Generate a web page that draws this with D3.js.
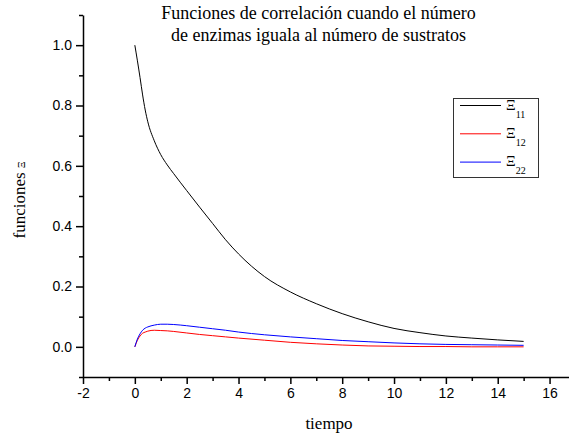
<!DOCTYPE html>
<html>
<head>
<meta charset="utf-8">
<script src="https://cdn.jsdelivr.net/npm/d3@7"></script>
<style>
  body { margin: 0; background: #fff; }
  svg { display: block; }
</style>
</head>
<body>
<div id="chart"></div>
<script>
var svgWidth = 569;
var svgHeight = 436;

// time values and the three correlation functions
var tiempo = [0, 0.1, 0.2, 0.3, 0.4, 0.5, 0.75, 1, 1.25, 1.5, 2, 2.5, 3, 3.5, 4, 5, 6, 7, 8, 9, 10, 11, 12, 13, 14, 15];
var xi11 = [1.0, 0.948, 0.893, 0.835, 0.785, 0.746, 0.683, 0.637, 0.603, 0.574, 0.518, 0.463, 0.409, 0.355, 0.308, 0.233, 0.182, 0.143, 0.110, 0.083, 0.061, 0.047, 0.036, 0.029, 0.023, 0.018];
var xi12 = [0, 0.022, 0.036, 0.045, 0.049, 0.052, 0.055, 0.054, 0.053, 0.051, 0.046, 0.041, 0.037, 0.033, 0.029, 0.022, 0.015, 0.010, 0.006, 0.003, 0.002, 0.001, 0.001, 0, 0, 0];
var xi22 = [0, 0.026, 0.043, 0.055, 0.062, 0.066, 0.072, 0.075, 0.075, 0.074, 0.070, 0.065, 0.060, 0.055, 0.049, 0.040, 0.033, 0.027, 0.021, 0.017, 0.013, 0.010, 0.008, 0.007, 0.006, 0.005];

var xTicks = [-2, 0, 2, 4, 6, 8, 10, 12, 14, 16];
var xMinor = [-1, 1, 3, 5, 7, 9, 11, 13, 15];
var yTicks = [0, 0.2, 0.4, 0.6, 0.8, 1.0];
var yMinor = [-0.1, 0.1, 0.3, 0.5, 0.7, 0.9, 1.1];

var seriesNames = ["11", "12", "22"];
var seriesColors = ["#000000", "#ff0000", "#0000ff"];
var seriesValues = [xi11, xi12, xi22];

var svg = d3.select("#chart")
  .append("svg")
  .attr("width", svgWidth)
  .attr("height", svgHeight);

var xScale = d3.scaleLinear().domain([-2, 16.75]).range([83, 569]);
var yScale = d3.scaleLinear().domain([-0.1, 1.1]).range([377, 15]);

// minor ticks first
svg.append("g")
  .attr("transform", "translate(0,377)")
  .call(d3.axisBottom(xScale).tickValues(xMinor).tickSize(4).tickFormat(""))
  .call(g => g.select(".domain").remove())
  .selectAll("line").attr("stroke-width", 1.5);

svg.append("g")
  .attr("transform", "translate(83,0)")
  .call(d3.axisLeft(yScale).tickValues(yMinor).tickSize(4).tickFormat(""))
  .call(g => g.select(".domain").remove())
  .selectAll("line").attr("stroke-width", 1.5);

// main axes
var xAxis = svg.append("g")
  .attr("transform", "translate(0,377)")
  .call(d3.axisBottom(xScale).tickValues(xTicks).tickSize(7).tickSizeOuter(0).tickPadding(4)
    .tickFormat(d => String(d)));
xAxis.select(".domain").attr("stroke-width", 1.5);
xAxis.selectAll("line").attr("stroke-width", 1.5);
xAxis.selectAll("text")
  .attr("font-family", "'Liberation Sans', Arial, sans-serif")
  .attr("font-size", 14)
  .attr("fill", "#000");

var yAxis = svg.append("g")
  .attr("transform", "translate(83,0)")
  .call(d3.axisLeft(yScale).tickValues(yTicks).tickSize(7).tickSizeOuter(0).tickPadding(4)
    .tickFormat(d3.format(".1f")));
yAxis.select(".domain").attr("stroke-width", 1.5);
yAxis.selectAll("line").attr("stroke-width", 1.5);
yAxis.selectAll("text")
  .attr("font-family", "'Liberation Sans', Arial, sans-serif")
  .attr("font-size", 14)
  .attr("fill", "#000");

// curves
var line = d3.line()
  .x((d, i) => xScale(tiempo[i]))
  .y(d => yScale(d))
  .curve(d3.curveMonotoneX);

svg.selectAll(".serie")
  .data(seriesValues)
  .enter()
  .append("path")
  .attr("class", "serie")
  .attr("d", d => line(d))
  .attr("fill", "none")
  .attr("stroke", (d, i) => seriesColors[i])
  .attr("stroke-width", 1);

// title
var serif = "'Liberation Serif', 'Times New Roman', serif";
var title = svg.append("text")
  .attr("text-anchor", "middle")
  .attr("font-family", serif)
  .attr("font-size", 18)
  .attr("fill", "#000");
title.append("tspan").attr("x", 318.5).attr("y", 19).text("Funciones de correlación cuando el número");
title.append("tspan").attr("x", 318.5).attr("y", 40.7).text("de enzimas iguala al número de sustratos");

// axis labels
svg.append("text")
  .attr("x", 329)
  .attr("y", 429)
  .attr("text-anchor", "middle")
  .attr("font-family", serif)
  .attr("font-size", 17)
  .text("tiempo");

var yLabel = svg.append("text")
  .attr("transform", "translate(25,200) rotate(-90)")
  .attr("text-anchor", "middle")
  .attr("font-family", serif)
  .attr("font-size", 17);
yLabel.append("tspan").text("funciones ");
yLabel.append("tspan").attr("font-size", 10).text("Ξ");

// legend
var legend = svg.append("g");
legend.append("rect")
  .attr("x", 453.5)
  .attr("y", 98.5)
  .attr("width", 85)
  .attr("height", 79)
  .attr("fill", "#fff")
  .attr("stroke", "#333")
  .attr("stroke-width", 1);

var items = legend.selectAll(".item")
  .data(seriesNames)
  .enter()
  .append("g")
  .attr("class", "item")
  .attr("transform", (d, i) => `translate(0, ${105.5 + i * 28.3})`);

items.append("line")
  .attr("x1", 460)
  .attr("x2", 501)
  .attr("stroke", (d, i) => seriesColors[i])
  .attr("stroke-width", 1);

var itemText = items.append("text")
  .attr("x", 506)
  .attr("y", 4)
  .attr("font-family", serif)
  .attr("font-size", 15)
  .attr("fill", "#000");
itemText.append("tspan").text("Ξ");
itemText.append("tspan").attr("dy", 8).attr("font-size", 10).text(d => d);
</script>
</body>
</html>
